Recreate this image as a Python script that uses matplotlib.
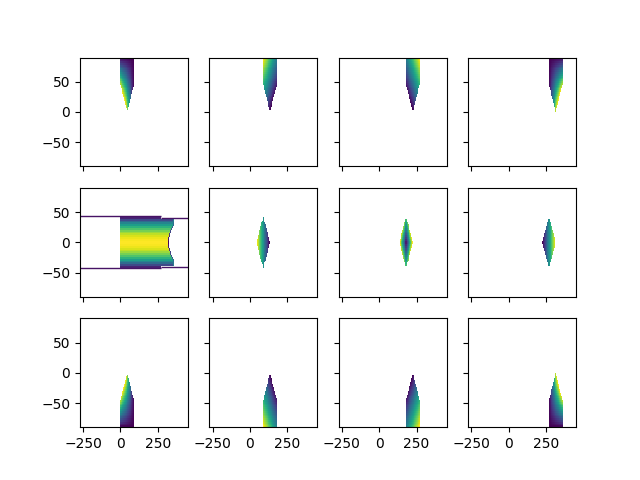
import numpy as np
import matplotlib
matplotlib.use("Agg")
import matplotlib.pyplot as plt

# grid cell edges (degrees)
lon_edges = np.arange(-1.5, 362, 3.0)
lat_edges = np.arange(-90, 91, 3.0)

# panel layout
cap_centers = [45, 135, 225, 315]        # top / bottom rows
diamond_centers = [0, 90, 180, 270]      # middle row
cap_half_width = 45
diamond_half_lon = 45
diamond_half_lat = 43

# colour gradients per column: value = ku*u + kt*t + kut*u*t
cap_ku = [0.0, -0.6, 0.6, 0.0]
cap_kt = [1.0, -1.5, -1.5, 1.0]
cap_kut = [-1.0, 0.0, 0.0, 1.0]
diamond_ku = [0.0, -1.0, 0.0, 1.0]

# wrapped panel (middle row, first column)
wrap_split_lon = 270
wrap_box_lat = [43, 40]

lon_c = 0.5 * (lon_edges[1:] + lon_edges[:-1])
lat_c = 0.5 * (lat_edges[1:] + lat_edges[:-1])
LON, LAT = np.meshgrid(lon_c, lat_c)

fig, axes = plt.subplots(3, 4, sharex=True, sharey=True)

for j in range(4):
    # top row: cap pointing down to the equator, bottom row mirrored
    for row, sign in [(0, 1), (2, -1)]:
        c = cap_centers[j]
        dlon = LON - c
        slat = sign * LAT
        region = (slat > 0) & (np.abs(dlon) <= np.minimum(cap_half_width, slat - 1))
        u = dlon / cap_half_width
        t = (90 - slat) / 90.0
        val = cap_ku[j] * u + cap_kt[j] * t + cap_kut[j] * u * t
        axes[row, j].pcolormesh(lon_edges, lat_edges,
                                np.ma.masked_where(~region, val),
                                cmap="viridis")

    # middle row
    ax = axes[1, j]
    c = diamond_centers[j]
    if j == 0:
        box_a = (LON >= 0) & (LON <= wrap_split_lon) & (np.abs(LAT) <= wrap_box_lat[0])
        bound = 322 + 35 * np.minimum(1, (np.abs(LAT) / 30.0) ** 1.5)
        box_b = (LON > wrap_split_lon) & (LON <= bound) & (np.abs(LAT) <= wrap_box_lat[1])
        val = -LAT ** 2
        fringe = box_b & (LON > bound - 6)
        val = np.where(fringe, -43 ** 2 + 900 * np.abs(LAT) / 40.0, val)
        region = box_a | box_b
        ax.pcolormesh(lon_edges, lat_edges, np.ma.masked_where(~region, val),
                      cmap="viridis")
        line_col = plt.cm.viridis(0.05)
        for s in (1, -1):
            ax.hlines(s * wrap_box_lat[0], -400, wrap_split_lon, colors=[line_col], lw=1)
            ax.hlines(s * wrap_box_lat[1], wrap_split_lon, 600, colors=[line_col], lw=1)
    else:
        dlon = LON - c
        u = dlon / diamond_half_lon
        v = LAT / diamond_half_lat
        region = np.abs(u) + np.abs(v) <= 1
        if j == 2:
            val = np.abs(u) + 0.7 * np.abs(v)
        else:
            val = diamond_ku[j] * u
        ax.pcolormesh(lon_edges, lat_edges, np.ma.masked_where(~region, val),
                      cmap="viridis")

axes[0, 0].set_xlim(-271, 451)
axes[0, 0].set_ylim(-90, 90)
axes[0, 0].set_xticks([-250, 0, 250])
axes[0, 0].set_yticks([-50, 0, 50])

plt.savefig("out.png")
